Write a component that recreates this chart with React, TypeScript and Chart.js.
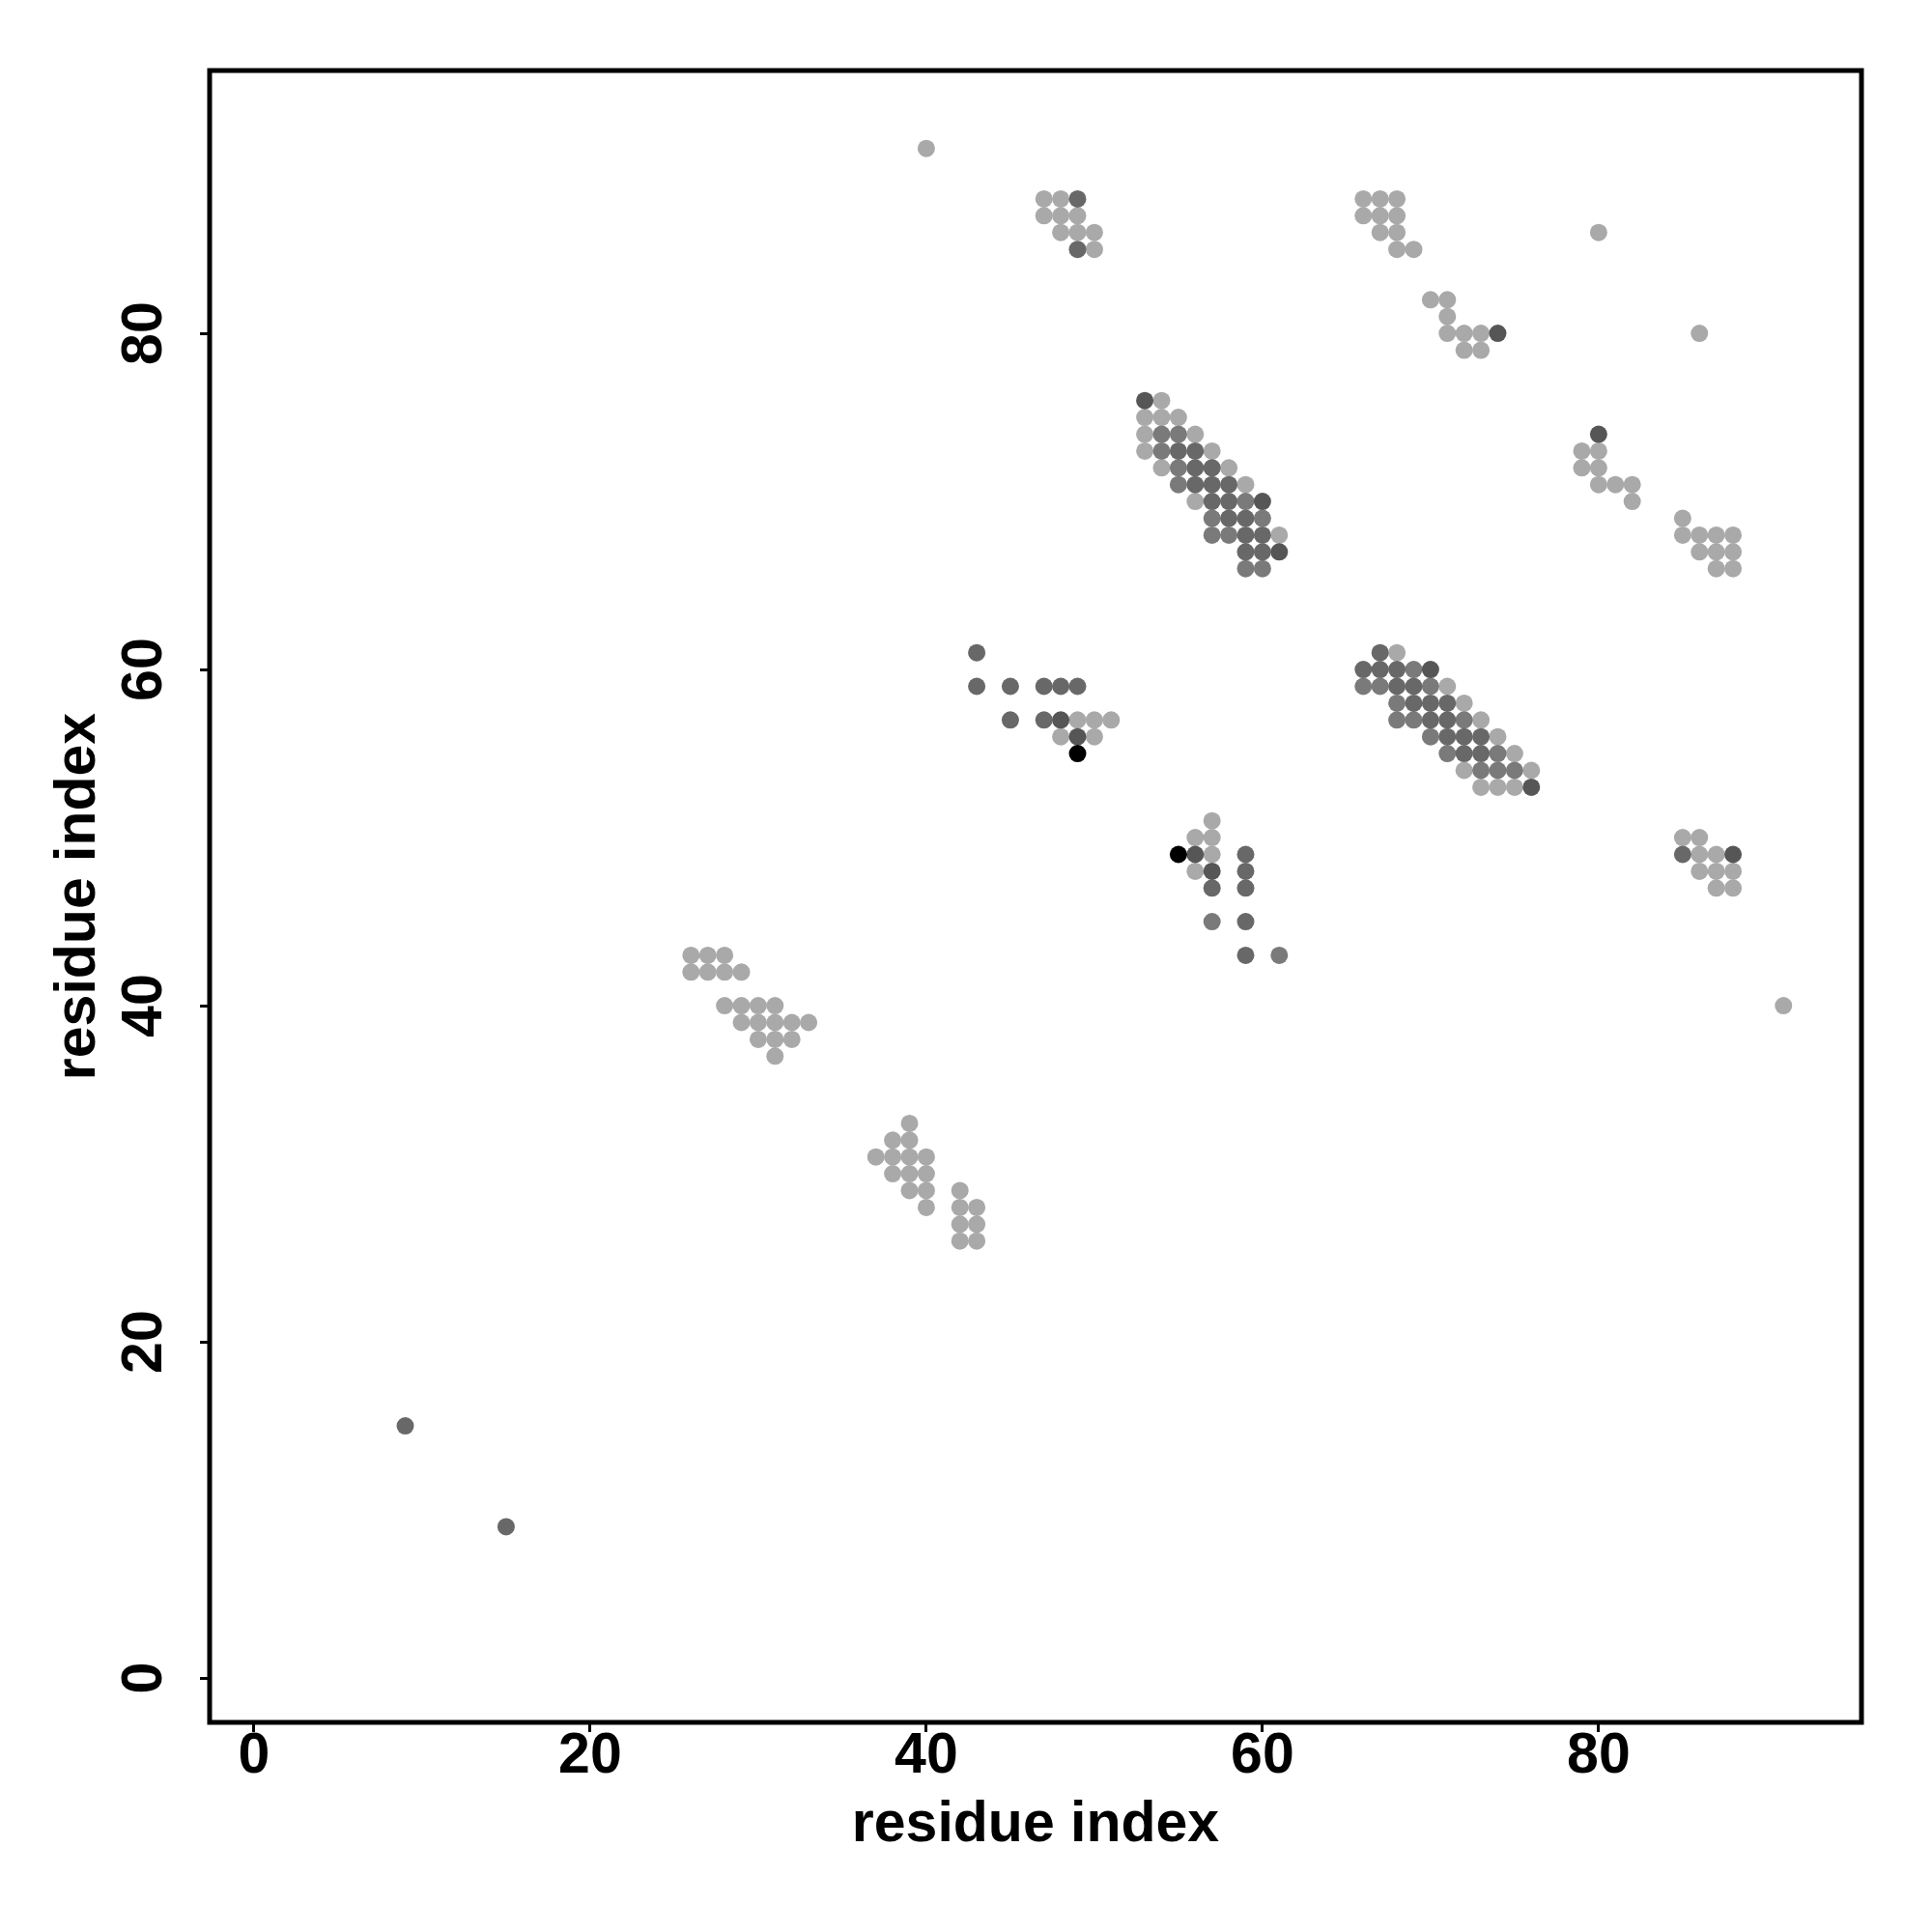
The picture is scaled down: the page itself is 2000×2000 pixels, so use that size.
import React, { useEffect, useRef } from "react";
import { Chart, registerables } from "chart.js";

Chart.register(...registerables);

// Axis range (R style: xlim = c(1, 92) extended by 4%)
const AXIS_MIN = -2.64;
const AXIS_MAX = 95.64;
const X_TICKS = [0, 20, 40, 60, 80];
const Y_TICKS = [0, 20, 40, 60, 80];
const X_TITLE = "residue index";
const Y_TITLE = "residue index";

// Contact points grouped by grey shade: [residue i, residue j]
const LIGHT_PTS: number[][] = [
  [47, 88], [48, 88], [47, 87], [48, 87], [49, 87], [48, 86], [49, 86], [50, 86], [50, 85],
  [40, 91],
  [66, 88], [67, 88], [68, 88], [66, 87], [67, 87], [68, 87], [67, 86], [68, 86], [68, 85], [69, 85],
  [70, 82], [71, 82], [71, 81], [71, 80], [72, 80], [73, 80], [72, 79], [73, 79],
  [80, 86], [86, 80],
  [54, 76], [53, 75], [54, 75], [55, 75], [53, 74], [56, 74], [53, 73], [57, 73], [54, 72], [58, 72],
  [59, 71], [56, 70], [61, 68],
  [49, 57], [50, 57], [51, 57], [48, 56], [50, 56],
  [68, 61], [71, 59], [72, 58], [73, 57], [74, 56], [75, 55], [72, 54], [76, 54], [73, 53], [74, 53], [75, 53],
  [57, 51], [56, 50], [57, 50], [57, 49], [56, 48],
  [79, 73], [80, 73], [79, 72], [80, 72], [80, 71], [81, 71], [82, 71], [82, 70],
  [85, 69], [85, 68], [86, 68], [87, 68], [88, 68], [86, 67], [87, 67], [88, 67], [87, 66], [88, 66],
  [85, 50], [86, 50], [86, 49], [87, 49], [86, 48], [87, 48], [88, 48], [87, 47], [88, 47],
  [91, 40],
  [26, 43], [27, 43], [28, 43], [26, 42], [27, 42], [28, 42], [29, 42],
  [28, 40], [29, 40], [30, 40], [31, 40], [29, 39], [30, 39], [31, 39], [32, 39], [33, 39],
  [30, 38], [31, 38], [32, 38], [31, 37],
  [39, 33], [38, 32], [39, 32], [37, 31], [38, 31], [39, 31], [40, 31], [38, 30], [39, 30], [40, 30],
  [39, 29], [40, 29], [40, 28],
  [42, 29], [42, 28], [43, 28], [42, 27], [43, 27], [42, 26], [43, 26],
];

const MID_PTS: number[][] = [
  [54, 74], [55, 74], [54, 73], [55, 72], [55, 71], [59, 70], [57, 69], [60, 69], [57, 68], [58, 68],
  [59, 66], [60, 66],
  [69, 60], [66, 59], [67, 59], [70, 59], [68, 58], [68, 57], [69, 57], [72, 57], [70, 56],
  [71, 55], [74, 55], [73, 54], [74, 54], [75, 54],
  [57, 45], [61, 43],
];

const DARK_PTS: number[][] = [
  [49, 88], [49, 85],
  [55, 73], [56, 73], [56, 72], [57, 72], [56, 71], [57, 71], [58, 71], [57, 70], [58, 70],
  [58, 69], [59, 69], [59, 68], [60, 68], [59, 67], [60, 67],
  [43, 61], [43, 59], [45, 59], [47, 59], [48, 59], [49, 59], [45, 57], [47, 57],
  [67, 61], [66, 60], [67, 60], [68, 60], [68, 59], [69, 59], [69, 58], [70, 58], [71, 58],
  [70, 57], [71, 57], [71, 56], [72, 56], [73, 56], [72, 55], [73, 55],
  [59, 49], [59, 48], [57, 47], [59, 47], [59, 45], [59, 43],
  [85, 49],
  [9, 15], [15, 9],
];

const DARKER_PTS: number[][] = [
  [53, 76], [60, 70], [61, 67],
  [48, 57], [49, 56],
  [70, 60], [76, 53],
  [56, 49], [57, 48],
  [74, 80], [80, 74], [88, 49],
];

const BLACK_PTS: number[][] = [
  [49, 55], [55, 49],
];

const SHADE_NAMES = ["black", "darker", "dark", "mid", "light"];
const SHADE_COLORS = ["#000000", "#565656", "#686868", "#7a7a7a", "#a9a9a9"];

export default function App() {
  const ref = useRef<HTMLCanvasElement | null>(null);

  useEffect(() => {
    if (!ref.current) return;
    const font = {
      family: "'Liberation Sans', Arial, Helvetica, sans-serif",
      weight: "bold" as const,
      size: 59,
    };
    const groups = [BLACK_PTS, DARKER_PTS, DARK_PTS, MID_PTS, LIGHT_PTS];
    const datasets = groups.map((pts, i) => ({
      label: SHADE_NAMES[i],
      data: pts.map(([x, y]) => ({ x, y })),
      backgroundColor: SHADE_COLORS[i],
      borderWidth: 0,
      pointRadius: 9,
      pointHoverRadius: 9,
    }));

    const boxPlugin = {
      id: "plotBox",
      afterDraw(chart: any) {
        const { ctx, chartArea: a } = chart;
        ctx.save();
        ctx.strokeStyle = "#000";
        ctx.lineWidth = 5;
        ctx.strokeRect(a.left, a.top, a.right - a.left, a.bottom - a.top);
        ctx.restore();
      },
    };

    const gridOpts = {
      display: true,
      drawOnChartArea: false,
      drawTicks: true,
      tickLength: 10,
      tickWidth: 3,
      tickColor: "#000",
    };

    const chart = new Chart(ref.current, {
      type: "scatter",
      data: { datasets },
      options: {
        responsive: false,
        animation: false,
        devicePixelRatio: 1,
        events: [],
        layout: { padding: { top: 73, right: 73, bottom: 0, left: 0 } },
        plugins: { legend: { display: false }, tooltip: { enabled: false } },
        scales: {
          x: {
            type: "linear",
            min: AXIS_MIN,
            max: AXIS_MAX,
            afterFit: (s: any) => {
              s.height = 217;
            },
            afterBuildTicks: (s: any) => {
              s.ticks = X_TICKS.map((v) => ({ value: v }));
            },
            grid: gridOpts,
            border: { display: false },
            ticks: {
              color: "#000",
              font,
              padding: -10,
              minRotation: 0,
              maxRotation: 0,
              autoSkip: false,
            },
            title: {
              display: true,
              text: X_TITLE,
              color: "#000",
              font,
              padding: { top: 0, bottom: 75 },
            },
          },
          y: {
            type: "linear",
            min: AXIS_MIN,
            max: AXIS_MAX,
            afterFit: (s: any) => {
              s.width = 217;
            },
            afterBuildTicks: (s: any) => {
              s.ticks = Y_TICKS.map((v) => ({ value: v }));
            },
            grid: gridOpts,
            border: { display: false },
            ticks: {
              color: "#000",
              font,
              padding: 23,
              minRotation: 90,
              maxRotation: 90,
              crossAlign: "center",
              autoSkip: false,
            },
            title: {
              display: true,
              text: Y_TITLE,
              color: "#000",
              font,
              padding: { top: 46, bottom: 0 },
            },
          },
        },
      },
      plugins: [boxPlugin],
    } as any);

    return () => chart.destroy();
  }, []);

  return (
    <div style={{ position: "absolute", left: 0, top: 0, width: 2000, height: 2000, background: "#fff" }}>
      <canvas ref={ref} width={2000} height={2000} style={{ width: 2000, height: 2000, display: "block" }} />
    </div>
  );
}
